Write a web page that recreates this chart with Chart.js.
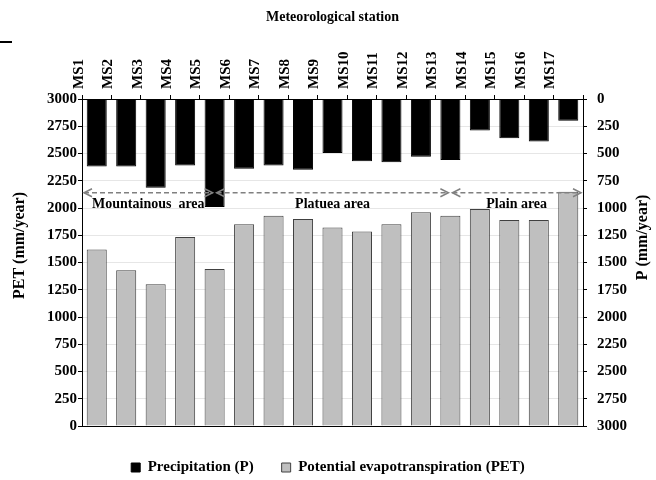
<!DOCTYPE html>
<html>
<head>
<meta charset="utf-8">
<script src="https://cdn.jsdelivr.net/npm/chart.js@4"></script>
<style>
  body { margin: 0; background: #fff; }
  #wrap { width: 656px; height: 480px; }
</style>
</head>
<body>
<div id="wrap"><canvas id="chart"></canvas></div>
<script>
// stations and values (mm/year)
const stations = ['MS1', 'MS2', 'MS3', 'MS4', 'MS5', 'MS6', 'MS7', 'MS8', 'MS9',
    'MS10', 'MS11', 'MS12', 'MS13', 'MS14', 'MS15', 'MS16', 'MS17'];
const precipitation = [620, 620, 815, 610, 990, 640, 610, 650, 495,
    570, 580, 530, 560, 290, 360, 390, 200];
const pet = [1620, 1430, 1300, 1735, 1440, 1850, 1930, 1900, 1820,
    1785, 1850, 1960, 1930, 1990, 1890, 1890, 2150];
const axisTicks = [0, 250, 500, 750, 1000, 1250, 1500, 1750, 2000, 2250, 2500, 2750, 3000];

// geographic zones: names and the stations where the arrows meet
const areaNames = ['Mountainous  area', 'Platuea area', 'Plain area'];
const areaBreaks = ['MS5', 'MS13'];
const arrowLevel = 2140;

const serif = '"Liberation Serif", "Times New Roman", serif';

// dashed double arrows + axis titles
const areaPlugin = {
    id: 'areas',
    afterDatasetsDraw(chart) {
        const { ctx, chartArea, scales } = chart;
        const y = scales.y.getPixelForValue(arrowLevel);
        const xs = [chartArea.left]
            .concat(areaBreaks.map(s => scales.x.getPixelForValue(stations.indexOf(s))))
            .concat([chartArea.right]);

        ctx.save();
        ctx.strokeStyle = '#808080';
        ctx.lineWidth = 1.5;
        for (let i = 0; i < xs.length - 1; i++) {
            const a = xs[i] + 2, b = xs[i + 1] - 2;
            ctx.setLineDash([5, 3]);
            ctx.beginPath();
            ctx.moveTo(a, y);
            ctx.lineTo(b, y);
            ctx.stroke();
            ctx.setLineDash([]);
            ctx.beginPath();
            ctx.moveTo(a + 8, y - 4); ctx.lineTo(a, y); ctx.lineTo(a + 8, y + 4);
            ctx.moveTo(b - 8, y - 4); ctx.lineTo(b, y); ctx.lineTo(b - 8, y + 4);
            ctx.stroke();

            ctx.fillStyle = '#000';
            ctx.font = 'bold 14px ' + serif;
            ctx.textAlign = 'center';
            ctx.textBaseline = 'middle';
            ctx.fillText(areaNames[i], (xs[i] + xs[i + 1]) / 2, y + 12);
        }

        // axis titles, both reading bottom to top
        const midY = (chartArea.top + chartArea.bottom) / 2;
        ctx.font = 'bold 16px ' + serif;
        [[20, midY - 17, 'PET (mm/year)'], [643, midY - 25, 'P (mm/year)']].forEach(t => {
            ctx.save();
            ctx.translate(t[0], t[1]);
            ctx.rotate(-Math.PI / 2);
            ctx.fillText(t[2], 0, 0);
            ctx.restore();
        });

        // small stray mark in the top left corner of the original
        ctx.strokeStyle = '#000';
        ctx.lineWidth = 2;
        ctx.beginPath();
        ctx.moveTo(0, 42);
        ctx.lineTo(12, 42);
        ctx.stroke();
        ctx.restore();
    }
};

const tickFont = { family: serif, size: 15, weight: 'bold' };
const plainNumber = v => String(v);

new Chart(document.getElementById('chart'), {
    type: 'bar',
    data: {
        labels: stations,
        datasets: [{
            label: 'Precipitation (P)',
            data: precipitation,
            yAxisID: 'y2',
            backgroundColor: '#000000',
            borderColor: '#000000',
            borderWidth: 1,
            grouped: false,
            barPercentage: 0.68,
            categoryPercentage: 1
        }, {
            label: 'Potential evapotranspiration (PET)',
            data: pet,
            yAxisID: 'y',
            backgroundColor: '#bfbfbf',
            borderColor: '#404040',
            borderWidth: 1,
            grouped: false,
            barPercentage: 0.68,
            categoryPercentage: 1
        }]
    },
    options: {
        responsive: true,
        maintainAspectRatio: false,
        animation: false,
        layout: { padding: { left: 0, right: 0, top: 0, bottom: -5 } },
        plugins: {
            tooltip: { enabled: false },
            legend: {
                position: 'bottom',
                labels: {
                    color: '#000',
                    font: { family: serif, size: 15, weight: 'bold' },
                    boxWidth: 9,
                    boxHeight: 9,
                    padding: 28
                }
            }
        },
        scales: {
            x: {
                position: 'top',
                afterFit: s => { s.height = 99; },
                title: {
                    display: true,
                    text: 'Meteorological station',
                    color: '#000',
                    font: { family: serif, size: 14, weight: 'bold' },
                    padding: { top: 9, bottom: 0 }
                },
                ticks: {
                    color: '#000',
                    font: { family: serif, size: 15, weight: 'bold' },
                    autoSkip: false,
                    minRotation: 90,
                    maxRotation: 90,
                    padding: 6
                },
                grid: { drawOnChartArea: false, tickLength: 4, tickColor: '#000' },
                border: { color: '#000' }
            },
            x2: {
                position: 'bottom',
                labels: stations,
                afterFit: s => { s.height = 6; },
                ticks: { display: false },
                grid: { display: false },
                border: { color: '#000' }
            },
            y: {
                position: 'left',
                min: 0,
                max: 3000,
                afterFit: s => { s.width = 82; },
                afterBuildTicks: s => { s.ticks = axisTicks.map(v => ({ value: v })); },
                ticks: { color: '#000', font: tickFont, padding: 1, callback: plainNumber },
                grid: { color: '#e6e6e6', tickColor: '#000', tickLength: 4 },
                border: { color: '#000' }
            },
            y2: {
                position: 'right',
                reverse: true,
                min: 0,
                max: 3000,
                afterFit: s => { s.width = 73; },
                afterBuildTicks: s => { s.ticks = axisTicks.map(v => ({ value: v })); },
                ticks: { color: '#000', font: tickFont, padding: 10, callback: plainNumber },
                grid: { drawOnChartArea: false, tickColor: '#000', tickLength: 4 },
                border: { color: '#000' }
            }
        }
    },
    plugins: [areaPlugin]
});
</script>
</body>
</html>
